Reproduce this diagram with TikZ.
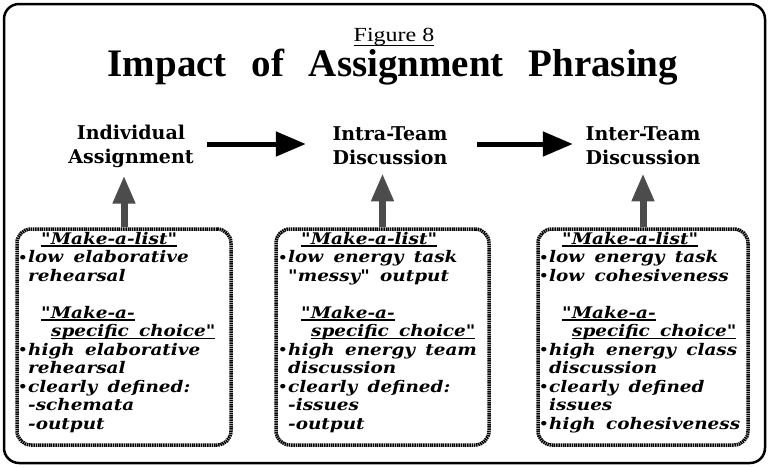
\documentclass[tikz,border=0pt]{standalone}
\usepackage{fontspec}
\usetikzlibrary{arrows.meta}
\setmainfont{Liberation Serif}
\newfontfamily\figfont[FakeStretch=1.2]{Liberation Serif}
\newfontfamily\headfont{DejaVu Serif}
\newfontfamily\notefont[FakeStretch=1.15,WordSpace=1.6]{DejaVu Serif}
% underline drawn as a rule under the measured text
\newsavebox\ulinebox
\newcommand\ulined[2][2.6pt]{\sbox\ulinebox{#2}\rlap{\rule[-#1]{\wd\ulinebox}{1.3pt}}\usebox\ulinebox}
\newcommand\bul{\llap{\raisebox{0.3pt}{\fontsize{13}{13}\selectfont\textbullet}\hspace{0.6pt}}}

\tikzset{
  head/.style={font=\headfont\bfseries\fontsize{19}{24}\selectfont,
    align=center, text width=130pt, inner sep=0pt},
  panel/.style={draw=black, line width=3.5pt, rounded corners=14pt,
    dash pattern=on 1.5pt off 0.7pt, inner sep=0pt},
  note/.style={anchor=north west, inner sep=0pt, align=left,
    font=\notefont\bfseries\itshape\fontsize{16}{18.5}\selectfont},
  bigarrow/.style={line width=5pt, -{Triangle[width=24pt,length=30pt]}},
  uparrow/.style={draw=black!70, fill=black!70, line width=7pt,
    -{Triangle[width=21pt,length=28pt]}}
}

\begin{document}
\begin{tikzpicture}[x=1pt,y=-1pt]
  \useasboundingbox (0,0) rectangle (769,467);
  % outer frame
  \draw[line width=2.5pt, rounded corners=15pt] (4,4) rectangle (765,463);

  % titles
  \node[anchor=base, inner sep=0pt, font=\figfont\fontsize{20}{22}\selectfont] (fig) at (394,41) {\ulined[5pt]{Figure 8}};
  \node[anchor=base, inner sep=0pt, font=\fontsize{39}{41}\selectfont\bfseries] (title) at (393,76)
    {Impact\hspace{15pt} of\hspace{15pt} Assignment\hspace{15pt} Phrasing};

  % stage headers
  \node[head] (h1) at (131,146) {Individual\\Assignment};
  \node[head] (h2) at (390,146) {Intra-Team\\Discussion};
  \node[head] (h3) at (643,146) {Inter-Team\\Discussion};

  \draw[bigarrow, shorten <=11pt, shorten >=19pt] ([yshift=2pt]h1.east) -- ([yshift=2pt]h2.west);
  \draw[bigarrow, shorten <=22pt, shorten >=5pt] ([yshift=2pt]h2.east) -- ([yshift=2pt]h3.west);

  % phrasing panels
  \node[panel, minimum width=214pt, minimum height=216pt] (b1) at (124,337) {};
  \node[panel, minimum width=213pt, minimum height=216pt] (b2) at (382.5,337) {};
  \node[panel, minimum width=210pt, minimum height=216pt] (b3) at (643,337) {};

  \draw[uparrow, shorten >=8pt] (b1.north) -- (b1.north |- h1.south);
  \draw[uparrow, shorten >=8pt] (b2.north) -- (b2.north |- h2.south);
  \draw[uparrow, shorten >=8pt] (b3.north) -- (b3.north |- h3.south);

  \node[note] (t1) at (28,231) {\strut\hspace{13pt}\ulined{"Make-a-list"}\\
    \bul low elaborative\\
    rehearsal\\[18.5pt]
    \hspace{13pt}\ulined{"Make-a-}\\
    \hspace{23pt}\ulined{specific choice"}\\
    \bul high elaborative\\
    rehearsal\\
    \bul clearly defined:\\
    -schemata\\
    -output};

  \node[note] (t2) at (288,231) {\strut\hspace{13pt}\ulined{"Make-a-list"}\\
    \bul low energy task\\
    "messy" output\\[18.5pt]
    \hspace{13pt}\ulined{"Make-a-}\\
    \hspace{23pt}\ulined{specific choice"}\\
    \bul high energy team\\
    discussion\\
    \bul clearly defined:\\
    -issues\\
    -output};

  \node[note] (t3) at (549,231) {\strut\hspace{13pt}\ulined{"Make-a-list"}\\
    \bul low energy task\\
    \bul low\ cohesiveness\\[18.5pt]
    \hspace{13pt}\ulined{"Make-a-}\\
    \hspace{23pt}\ulined{specific choice"}\\
    \bul high energy class\\
    discussion\\
    \bul clearly defined\\
    issues\\
    \bul high\ cohesiveness};
\end{tikzpicture}
\end{document}
